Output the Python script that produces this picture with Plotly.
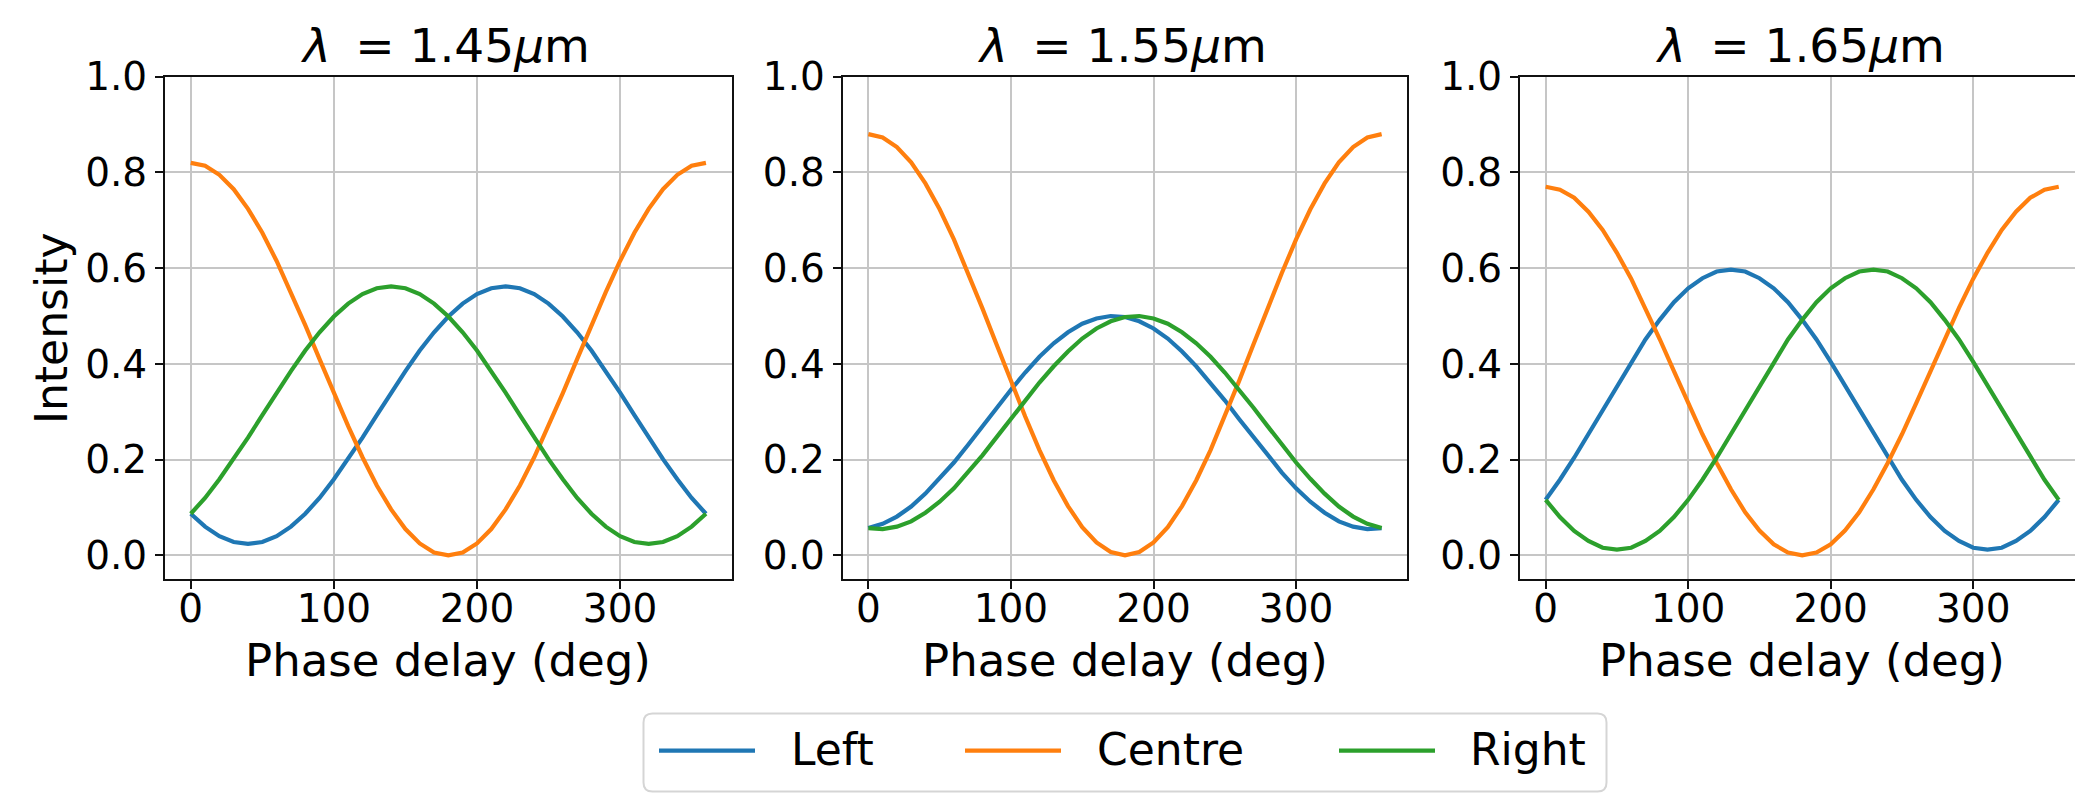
import plotly.graph_objects as go

# ---------------- data ----------------
phase_deg = [0, 10, 20, 30, 40, 50, 60, 70, 80, 90, 100, 110, 120, 130, 140, 150, 160, 170, 180,
             190, 200, 210, 220, 230, 240, 250, 260, 270, 280, 290, 300, 310, 320, 330, 340, 350, 360]

left_145 = [0.087, 0.060, 0.040, 0.028, 0.024, 0.028, 0.040, 0.060, 0.087, 0.120, 0.159, 0.201, 0.246,
            0.293, 0.340, 0.385, 0.428, 0.466, 0.499, 0.526, 0.546, 0.558, 0.562, 0.558, 0.546, 0.526,
            0.499, 0.466, 0.428, 0.385, 0.340, 0.293, 0.246, 0.201, 0.159, 0.120, 0.087]
centre_145 = [0.820, 0.814, 0.795, 0.765, 0.724, 0.674, 0.615, 0.550, 0.481, 0.410, 0.339, 0.270, 0.205,
              0.146, 0.096, 0.055, 0.025, 0.006, 0.000, 0.006, 0.025, 0.055, 0.096, 0.146, 0.205, 0.270,
              0.339, 0.410, 0.481, 0.550, 0.615, 0.674, 0.724, 0.765, 0.795, 0.814, 0.820]
right_145 = [0.087, 0.120, 0.159, 0.201, 0.246, 0.293, 0.340, 0.385, 0.428, 0.466, 0.499, 0.526, 0.546,
             0.558, 0.562, 0.558, 0.546, 0.526, 0.499, 0.466, 0.428, 0.385, 0.340, 0.293, 0.246, 0.201,
             0.159, 0.120, 0.087, 0.060, 0.040, 0.028, 0.024, 0.028, 0.040, 0.060, 0.087]

left_155 = [0.057, 0.066, 0.081, 0.102, 0.129, 0.160, 0.194, 0.231, 0.270, 0.309, 0.346, 0.382, 0.415,
            0.443, 0.466, 0.484, 0.495, 0.500, 0.498, 0.489, 0.474, 0.453, 0.426, 0.395, 0.361, 0.324,
            0.285, 0.247, 0.209, 0.173, 0.140, 0.112, 0.089, 0.071, 0.060, 0.055, 0.057]
centre_155 = [0.880, 0.873, 0.853, 0.821, 0.777, 0.723, 0.660, 0.590, 0.516, 0.440, 0.364, 0.290, 0.220,
              0.157, 0.103, 0.059, 0.027, 0.007, 0.000, 0.007, 0.027, 0.059, 0.103, 0.157, 0.220, 0.290,
              0.364, 0.440, 0.516, 0.590, 0.660, 0.723, 0.777, 0.821, 0.853, 0.873, 0.880]
right_155 = [0.057, 0.055, 0.060, 0.071, 0.089, 0.112, 0.140, 0.173, 0.209, 0.247, 0.285, 0.324, 0.361,
             0.395, 0.426, 0.453, 0.474, 0.489, 0.498, 0.500, 0.495, 0.484, 0.466, 0.443, 0.415, 0.382,
             0.346, 0.309, 0.270, 0.231, 0.194, 0.160, 0.129, 0.102, 0.081, 0.066, 0.057]

left_165 = [0.116, 0.158, 0.204, 0.254, 0.304, 0.355, 0.404, 0.451, 0.492, 0.529, 0.558, 0.579, 0.593,
            0.597, 0.593, 0.579, 0.558, 0.529, 0.492, 0.451, 0.404, 0.355, 0.304, 0.254, 0.204, 0.158,
            0.116, 0.080, 0.051, 0.030, 0.016, 0.012, 0.016, 0.030, 0.051, 0.080, 0.116]
centre_165 = [0.770, 0.764, 0.747, 0.718, 0.680, 0.632, 0.578, 0.517, 0.452, 0.385, 0.318, 0.253, 0.193,
              0.138, 0.090, 0.052, 0.023, 0.006, 0.000, 0.006, 0.023, 0.052, 0.090, 0.138, 0.193, 0.253,
              0.318, 0.385, 0.452, 0.517, 0.578, 0.632, 0.680, 0.718, 0.747, 0.764, 0.770]
right_165 = [0.116, 0.080, 0.051, 0.030, 0.016, 0.012, 0.016, 0.030, 0.051, 0.080, 0.116, 0.158, 0.204,
             0.254, 0.304, 0.355, 0.404, 0.451, 0.492, 0.529, 0.558, 0.579, 0.593, 0.597, 0.593, 0.579,
             0.558, 0.529, 0.492, 0.451, 0.404, 0.355, 0.304, 0.254, 0.204, 0.158, 0.116]

panel_titles = ["<i>λ</i>\u2009 = 1.45<i>μ</i>m",
                "<i>λ</i>\u2009 = 1.55<i>μ</i>m",
                "<i>λ</i>\u2009 = 1.65<i>μ</i>m"]
series_names = ["Left", "Centre", "Right"]
x_tick_vals = [0, 100, 200, 300]
y_tick_vals = [0.0, 0.2, 0.4, 0.6, 0.8, 1.0]
y_tick_text = ["0.0", "0.2", "0.4", "0.6", "0.8", "1.0"]
x_label = "Phase delay (deg)"
y_label = "Intensity"

panel_data = [
    (left_145, centre_145, right_145),
    (left_155, centre_155, right_155),
    (left_165, centre_165, right_165),
]

# ---------------- styling / layout ----------------
W, H = 2075, 798
COLORS = ["#1f77b4", "#ff7f0e", "#2ca02c"]
FONT = "DejaVu Sans"
TXT = "#000000"


def px(x):
    return x / W


def py(y):
    return 1 - y / H


# pixel extents of the three plot areas (third one is clipped by the image edge)
x_domains_px = [(165.0, 731.7), (842.7, 1407.3), (1520.0, 2075.0)]
x_ranges = [[-18, 378], [-18, 378], [-18, 371.4]]
title_centres_px = [445.0, 1122.0, 1800.0]
y_top_px, y_bot_px = 76.7, 579.3

fig = go.Figure()

for i, (data, dom) in enumerate(zip(panel_data, x_domains_px)):
    xa = "x" if i == 0 else f"x{i+1}"
    ya = "y" if i == 0 else f"y{i+1}"
    for name, vals, col in zip(series_names, data, COLORS):
        fig.add_trace(go.Scatter(
            x=phase_deg, y=vals, mode="lines", name=name,
            line=dict(color=col, width=4.2),
            xaxis=xa, yaxis=ya, showlegend=False, hoverinfo="skip",
        ))

    common = dict(
        showline=True, linecolor="#111111", linewidth=2,
        ticks="outside", ticklen=8, tickwidth=2, tickcolor="#111111",
        showgrid=True, gridcolor="#c6c6c6", gridwidth=2.2,
        zeroline=False, automargin=False,
        tickfont=dict(family=FONT, size=39, color=TXT),
    )
    xkey = "xaxis" if i == 0 else f"xaxis{i+1}"
    ykey = "yaxis" if i == 0 else f"yaxis{i+1}"
    fig.update_layout(**{
        xkey: dict(
            domain=[px(dom[0]), px(dom[1])], range=x_ranges[i],
            tickvals=x_tick_vals, anchor=ya, mirror=True,
            ticklabelstandoff=-14,
            **common,
        ),
        ykey: dict(
            domain=[py(y_bot_px), py(y_top_px)], range=[-0.05, 1.0],
            tickvals=y_tick_vals, ticktext=y_tick_text, anchor=xa,
            mirror=(i < 2),
            **common,
        ),
    })

annotations = []
for i in range(3):
    # panel title
    annotations.append(dict(
        x=px(title_centres_px[i]), y=py(45.5), xref="paper", yref="paper",
        text=panel_titles[i], showarrow=False, xanchor="center", yanchor="middle",
        font=dict(family=FONT, size=47, color=TXT),
    ))
    # x-axis label
    cx = (x_domains_px[i][0] + x_domains_px[i][1]) / 2 if i < 2 else 1802.0
    annotations.append(dict(
        x=px(cx), y=py(660), xref="paper", yref="paper",
        text=x_label, showarrow=False, xanchor="center", yanchor="middle",
        font=dict(family=FONT, size=45, color=TXT),
    ))

annotations.append(dict(
    x=px(51), y=py((y_top_px + y_bot_px) / 2), xref="paper", yref="paper",
    text=y_label, showarrow=False, textangle=-90, xanchor="center", yanchor="middle",
    font=dict(family=FONT, size=44, color=TXT),
))

# ---------------- legend (drawn manually to match the long sample lines) ----------------
lx0, lx1, ly0, ly1, r = 643.5, 1606.5, 713.5, 791.5, 9
path = (
    f"M {px(lx0 + r)},{py(ly0)} L {px(lx1 - r)},{py(ly0)} Q {px(lx1)},{py(ly0)} {px(lx1)},{py(ly0 + r)} "
    f"L {px(lx1)},{py(ly1 - r)} Q {px(lx1)},{py(ly1)} {px(lx1 - r)},{py(ly1)} "
    f"L {px(lx0 + r)},{py(ly1)} Q {px(lx0)},{py(ly1)} {px(lx0)},{py(ly1 - r)} "
    f"L {px(lx0)},{py(ly0 + r)} Q {px(lx0)},{py(ly0)} {px(lx0 + r)},{py(ly0)} Z"
)
shapes = [dict(type="path", path=path, xref="paper", yref="paper",
               line=dict(color="#d5d5d5", width=2), fillcolor="rgba(255,255,255,0.8)")]

legend_line_px = [(659, 755), (965, 1061), (1339, 1435)]
legend_text_px = [789, 1095, 1468]
leg_y = 750.7
for (a, b), tx, name, col in zip(legend_line_px, legend_text_px, series_names, COLORS):
    shapes.append(dict(type="line", xref="paper", yref="paper",
                       x0=px(a), x1=px(b), y0=py(leg_y), y1=py(leg_y),
                       line=dict(color=col, width=4.2)))
    annotations.append(dict(
        x=px(tx), y=py(749), xref="paper", yref="paper",
        text=name, showarrow=False, xanchor="left", yanchor="middle",
        font=dict(family=FONT, size=44, color=TXT),
    ))

fig.update_layout(
    width=W, height=H,
    margin=dict(l=0, r=0, t=0, b=0, autoexpand=False),
    paper_bgcolor="white", plot_bgcolor="white",
    showlegend=False,
    annotations=annotations, shapes=shapes,
    font=dict(family=FONT, color=TXT),
)

fig.write_html("out.html")
